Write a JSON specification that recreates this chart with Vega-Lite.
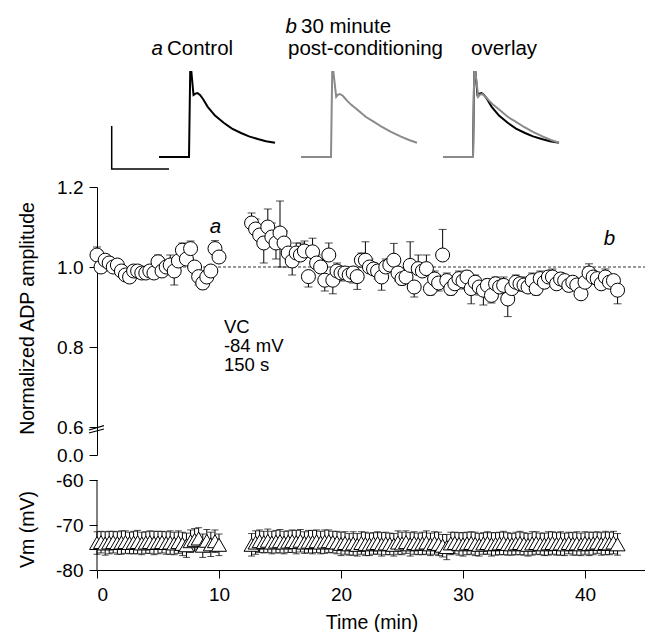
{
"$schema": "https://vega.github.io/schema/vega-lite/v6.json",
"background": "white",
"padding": {"left": 16, "top": 0, "right": 0, "bottom": 0},
"config": {
  "font": "Liberation Sans",
  "view": {"stroke": null},
  "axis": {"domainColor": "black", "tickColor": "black", "labelColor": "black", "titleColor": "black", "labelFontSize": 19, "titleFontSize": 19.5, "titleFontWeight": "normal", "tickSize": 8, "labelPadding": 6, "grid": false, "domainWidth": 1, "tickWidth": 1},
  "text": {"fontSize": 19, "color": "black"}
},
"datasets": {
  "d": [
    {"t":0,"a":1.03,"lo":1.03,"hi":1.05,"vm":-74.0,"ve":2.5},
    {"t":0.33,"a":1.0,"lo":0.99,"hi":1.0,"vm":-73.8,"ve":2.4},
    {"t":0.67,"a":1.017,"lo":1.017,"hi":1.03,"vm":-74.1,"ve":2.6},
    {"t":1,"a":1.01,"lo":1.01,"hi":1.025,"vm":-73.9,"ve":2.5},
    {"t":1.33,"a":1.0,"lo":1.0,"hi":1.01,"vm":-73.8,"ve":2.4},
    {"t":1.67,"a":1.005,"lo":0.99,"hi":1.005,"vm":-74.0,"ve":2.5},
    {"t":2,"a":0.99,"lo":0.99,"hi":1.0,"vm":-73.9,"ve":2.6},
    {"t":2.33,"a":0.98,"lo":0.975,"hi":0.98,"vm":-73.8,"ve":2.5},
    {"t":2.67,"a":0.975,"lo":0.975,"hi":0.985,"vm":-74.0,"ve":2.4},
    {"t":3,"a":0.99,"lo":0.99,"hi":1.0,"vm":-73.9,"ve":2.5},
    {"t":3.33,"a":0.99,"lo":0.98,"hi":0.99,"vm":-73.8,"ve":2.6},
    {"t":3.67,"a":0.985,"lo":0.985,"hi":0.995,"vm":-74.1,"ve":2.5},
    {"t":4,"a":0.985,"lo":0.975,"hi":0.985,"vm":-73.9,"ve":2.4},
    {"t":4.33,"a":0.99,"lo":0.99,"hi":1.0,"vm":-73.8,"ve":2.5},
    {"t":4.67,"a":0.985,"lo":0.975,"hi":0.985,"vm":-74.0,"ve":2.6},
    {"t":5,"a":1.013,"lo":1.013,"hi":1.03,"vm":-73.9,"ve":2.5},
    {"t":5.33,"a":0.99,"lo":0.99,"hi":1.0,"vm":-73.8,"ve":2.4},
    {"t":5.67,"a":1.0,"lo":1.0,"hi":1.01,"vm":-74.0,"ve":2.5},
    {"t":6,"a":1.005,"lo":1.005,"hi":1.03,"vm":-73.9,"ve":2.6},
    {"t":6.33,"a":0.99,"lo":0.955,"hi":0.99,"vm":-74.1,"ve":2.5},
    {"t":6.67,"a":1.015,"lo":1.015,"hi":1.025,"vm":-73.8,"ve":2.5},
    {"t":7,"a":1.042,"lo":1.042,"hi":1.06,"vm":-74.2,"ve":2.6},
    {"t":7.33,"a":1.02,"lo":1.02,"hi":1.03,"vm":-74.5,"ve":2.7},
    {"t":7.67,"a":1.046,"lo":1.046,"hi":1.065,"vm":-73.6,"ve":2.5},
    {"t":8,"a":1.0,"lo":0.99,"hi":1.0,"vm":-73.3,"ve":2.5},
    {"t":8.33,"a":0.976,"lo":0.955,"hi":0.976,"vm":-73.0,"ve":2.4},
    {"t":8.67,"a":0.96,"lo":0.945,"hi":0.96,"vm":-74.6,"ve":2.6},
    {"t":9,"a":0.975,"lo":0.975,"hi":0.99,"vm":-73.5,"ve":2.5},
    {"t":9.33,"a":0.99,"lo":0.99,"hi":1.0,"vm":-74.3,"ve":2.7},
    {"t":9.67,"a":1.046,"lo":1.046,"hi":1.066,"vm":-73.6,"ve":2.5},
    {"t":10,"a":1.025,"lo":1.025,"hi":1.035,"vm":-74.4,"ve":2.4},
    {"t":12.67,"a":1.11,"lo":1.11,"hi":1.135,"vm":-74.4,"ve":2.5},
    {"t":13,"a":1.095,"lo":1.095,"hi":1.12,"vm":-73.9,"ve":2.6},
    {"t":13.33,"a":1.08,"lo":1.08,"hi":1.1,"vm":-73.6,"ve":2.5},
    {"t":13.67,"a":1.06,"lo":1.01,"hi":1.06,"vm":-73.8,"ve":2.4},
    {"t":14,"a":1.1,"lo":1.1,"hi":1.145,"vm":-73.5,"ve":2.6},
    {"t":14.33,"a":1.075,"lo":1.075,"hi":1.11,"vm":-73.9,"ve":2.5},
    {"t":14.67,"a":1.06,"lo":1.02,"hi":1.06,"vm":-73.7,"ve":2.5},
    {"t":15,"a":1.085,"lo":1.0,"hi":1.165,"vm":-73.6,"ve":2.6},
    {"t":15.33,"a":1.06,"lo":1.06,"hi":1.09,"vm":-73.9,"ve":2.5},
    {"t":15.67,"a":1.035,"lo":1.0,"hi":1.035,"vm":-73.7,"ve":2.4},
    {"t":16,"a":1.015,"lo":0.98,"hi":1.015,"vm":-73.6,"ve":2.5},
    {"t":16.33,"a":1.035,"lo":1.035,"hi":1.06,"vm":-73.8,"ve":2.6},
    {"t":16.67,"a":1.03,"lo":1.03,"hi":1.06,"vm":-73.5,"ve":2.5},
    {"t":17,"a":1.04,"lo":1.04,"hi":1.065,"vm":-73.9,"ve":2.4},
    {"t":17.33,"a":0.976,"lo":0.95,"hi":0.976,"vm":-73.7,"ve":2.5},
    {"t":17.67,"a":1.038,"lo":1.038,"hi":1.072,"vm":-73.8,"ve":2.6},
    {"t":18,"a":1.01,"lo":1.01,"hi":1.03,"vm":-73.6,"ve":2.5},
    {"t":18.33,"a":1.0,"lo":1.0,"hi":1.02,"vm":-73.9,"ve":2.5},
    {"t":18.67,"a":0.967,"lo":0.94,"hi":0.967,"vm":-73.7,"ve":2.6},
    {"t":19,"a":1.03,"lo":1.03,"hi":1.06,"vm":-73.6,"ve":2.5},
    {"t":19.33,"a":0.967,"lo":0.933,"hi":0.967,"vm":-73.8,"ve":2.4},
    {"t":19.67,"a":0.99,"lo":0.99,"hi":1.01,"vm":-73.9,"ve":2.5},
    {"t":20,"a":0.985,"lo":0.965,"hi":0.985,"vm":-74.2,"ve":2.6},
    {"t":20.33,"a":0.985,"lo":0.985,"hi":1.0,"vm":-74.0,"ve":2.5},
    {"t":20.67,"a":0.98,"lo":0.98,"hi":0.995,"vm":-74.3,"ve":2.4},
    {"t":21,"a":0.985,"lo":0.96,"hi":0.985,"vm":-74.1,"ve":2.6},
    {"t":21.33,"a":0.976,"lo":0.944,"hi":0.976,"vm":-74.4,"ve":2.5},
    {"t":21.67,"a":1.017,"lo":1.017,"hi":1.035,"vm":-74.0,"ve":2.5},
    {"t":22,"a":1.017,"lo":1.017,"hi":1.063,"vm":-74.2,"ve":2.6},
    {"t":22.33,"a":1.0,"lo":1.0,"hi":1.02,"vm":-74.3,"ve":2.5},
    {"t":22.67,"a":0.995,"lo":0.995,"hi":1.01,"vm":-74.1,"ve":2.4},
    {"t":23,"a":0.99,"lo":0.97,"hi":0.99,"vm":-74.0,"ve":2.5},
    {"t":23.33,"a":0.975,"lo":0.942,"hi":0.975,"vm":-74.3,"ve":2.6},
    {"t":23.67,"a":1.0,"lo":1.0,"hi":1.02,"vm":-74.1,"ve":2.5},
    {"t":24,"a":1.005,"lo":1.005,"hi":1.02,"vm":-74.2,"ve":2.4},
    {"t":24.33,"a":1.017,"lo":1.017,"hi":1.059,"vm":-74.4,"ve":2.5},
    {"t":24.67,"a":0.985,"lo":0.965,"hi":0.985,"vm":-73.9,"ve":2.6},
    {"t":25,"a":0.971,"lo":0.955,"hi":0.971,"vm":-74.1,"ve":2.5},
    {"t":25.33,"a":0.975,"lo":0.975,"hi":0.99,"vm":-73.8,"ve":2.5},
    {"t":25.67,"a":1.004,"lo":1.004,"hi":1.063,"vm":-74.3,"ve":2.6},
    {"t":26,"a":0.95,"lo":0.925,"hi":0.95,"vm":-74.0,"ve":2.5},
    {"t":26.33,"a":0.996,"lo":0.996,"hi":1.03,"vm":-74.2,"ve":2.4},
    {"t":26.67,"a":0.99,"lo":0.99,"hi":1.01,"vm":-74.1,"ve":2.5},
    {"t":27,"a":0.996,"lo":0.996,"hi":1.03,"vm":-73.9,"ve":2.6},
    {"t":27.33,"a":0.946,"lo":0.93,"hi":0.946,"vm":-74.3,"ve":2.5},
    {"t":27.67,"a":0.97,"lo":0.97,"hi":0.99,"vm":-74.0,"ve":2.5},
    {"t":28,"a":0.96,"lo":0.94,"hi":0.96,"vm":-74.2,"ve":2.6},
    {"t":28.33,"a":1.03,"lo":1.03,"hi":1.094,"vm":-74.6,"ve":2.5},
    {"t":28.67,"a":0.966,"lo":0.966,"hi":0.985,"vm":-74.9,"ve":2.8},
    {"t":29,"a":0.946,"lo":0.93,"hi":0.946,"vm":-74.1,"ve":2.5},
    {"t":29.33,"a":0.958,"lo":0.958,"hi":0.975,"vm":-74.0,"ve":2.4},
    {"t":29.67,"a":0.971,"lo":0.971,"hi":0.99,"vm":-74.2,"ve":2.5},
    {"t":30,"a":0.965,"lo":0.945,"hi":0.965,"vm":-74.3,"ve":2.6},
    {"t":30.33,"a":0.975,"lo":0.975,"hi":0.99,"vm":-74.1,"ve":2.5},
    {"t":30.67,"a":0.946,"lo":0.908,"hi":0.946,"vm":-74.0,"ve":2.5},
    {"t":31,"a":0.962,"lo":0.962,"hi":0.98,"vm":-74.2,"ve":2.6},
    {"t":31.33,"a":0.95,"lo":0.93,"hi":0.95,"vm":-74.4,"ve":2.5},
    {"t":31.67,"a":0.942,"lo":0.905,"hi":0.942,"vm":-74.1,"ve":2.4},
    {"t":32,"a":0.954,"lo":0.954,"hi":0.97,"vm":-74.0,"ve":2.5},
    {"t":32.33,"a":0.929,"lo":0.91,"hi":0.929,"vm":-74.3,"ve":2.6},
    {"t":32.67,"a":0.958,"lo":0.958,"hi":0.975,"vm":-74.2,"ve":2.5},
    {"t":33,"a":0.95,"lo":0.95,"hi":0.97,"vm":-74.1,"ve":2.5},
    {"t":33.33,"a":0.954,"lo":0.954,"hi":0.975,"vm":-74.0,"ve":2.6},
    {"t":33.67,"a":0.92,"lo":0.876,"hi":0.92,"vm":-74.2,"ve":2.5},
    {"t":34,"a":0.946,"lo":0.946,"hi":0.965,"vm":-74.3,"ve":2.4},
    {"t":34.33,"a":0.962,"lo":0.962,"hi":0.98,"vm":-74.1,"ve":2.5},
    {"t":34.67,"a":0.958,"lo":0.94,"hi":0.958,"vm":-74.0,"ve":2.6},
    {"t":35,"a":0.955,"lo":0.955,"hi":0.975,"vm":-74.2,"ve":2.5},
    {"t":35.33,"a":0.95,"lo":0.95,"hi":0.97,"vm":-74.4,"ve":2.5},
    {"t":35.67,"a":0.966,"lo":0.966,"hi":0.985,"vm":-74.1,"ve":2.6},
    {"t":36,"a":0.946,"lo":0.93,"hi":0.946,"vm":-74.0,"ve":2.5},
    {"t":36.33,"a":0.971,"lo":0.971,"hi":0.99,"vm":-74.2,"ve":2.4},
    {"t":36.67,"a":0.962,"lo":0.962,"hi":0.98,"vm":-74.3,"ve":2.5},
    {"t":37,"a":0.975,"lo":0.975,"hi":0.99,"vm":-74.1,"ve":2.6},
    {"t":37.33,"a":0.975,"lo":0.975,"hi":0.995,"vm":-74.0,"ve":2.5},
    {"t":37.67,"a":0.958,"lo":0.945,"hi":0.958,"vm":-74.2,"ve":2.5},
    {"t":38,"a":0.97,"lo":0.97,"hi":0.985,"vm":-74.1,"ve":2.6},
    {"t":38.33,"a":0.966,"lo":0.966,"hi":0.98,"vm":-74.3,"ve":2.5},
    {"t":38.67,"a":0.954,"lo":0.94,"hi":0.954,"vm":-74.0,"ve":2.4},
    {"t":39,"a":0.962,"lo":0.962,"hi":0.975,"vm":-74.2,"ve":2.5},
    {"t":39.33,"a":0.955,"lo":0.955,"hi":0.97,"vm":-74.1,"ve":2.6},
    {"t":39.67,"a":0.933,"lo":0.925,"hi":0.933,"vm":-74.3,"ve":2.5},
    {"t":40,"a":0.962,"lo":0.962,"hi":0.975,"vm":-74.0,"ve":2.5},
    {"t":40.33,"a":0.985,"lo":0.985,"hi":1.008,"vm":-74.2,"ve":2.6},
    {"t":40.67,"a":0.975,"lo":0.975,"hi":0.99,"vm":-74.1,"ve":2.5},
    {"t":41,"a":0.971,"lo":0.971,"hi":0.985,"vm":-73.9,"ve":2.4},
    {"t":41.33,"a":0.958,"lo":0.945,"hi":0.958,"vm":-74.2,"ve":2.5},
    {"t":41.67,"a":0.975,"lo":0.975,"hi":0.995,"vm":-74.0,"ve":2.6},
    {"t":42,"a":0.962,"lo":0.962,"hi":0.98,"vm":-74.1,"ve":2.5},
    {"t":42.33,"a":0.966,"lo":0.966,"hi":0.975,"vm":-73.9,"ve":2.5},
    {"t":42.67,"a":0.942,"lo":0.908,"hi":0.942,"vm":-74.3,"ve":2.4}
  ],
  "tr": [
    {"tr":"a","t":-30,"v":-75},{"tr":"a","t":0,"v":-75},{"tr":"a","t":1.2,"v":-32.5},{"tr":"a","t":2.4,"v":-32.5},{"tr":"a","t":4.5,"v":-44},{"tr":"a","t":6.5,"v":-43.3},{"tr":"a","t":8.5,"v":-43},{"tr":"a","t":11,"v":-44},{"tr":"a","t":14,"v":-46},{"tr":"a","t":18.7,"v":-49.9},{"tr":"a","t":26,"v":-54.3},{"tr":"a","t":35,"v":-58},{"tr":"a","t":43,"v":-60.8},{"tr":"a","t":52,"v":-63},{"tr":"a","t":60,"v":-64.7},{"tr":"a","t":68.7,"v":-66},{"tr":"a","t":77,"v":-67.1},{"tr":"a","t":86,"v":-67.9},
    {"tr":"b","t":-30,"v":-75},{"tr":"b","t":0,"v":-75},{"tr":"b","t":1.2,"v":-32.5},{"tr":"b","t":2.4,"v":-32.5},{"tr":"b","t":5.2,"v":-44.9},{"tr":"b","t":7,"v":-43.8},{"tr":"b","t":9,"v":-43.5},{"tr":"b","t":12,"v":-44.5},{"tr":"b","t":16,"v":-46.8},{"tr":"b","t":20,"v":-48.8},{"tr":"b","t":26.7,"v":-51.5},{"tr":"b","t":35,"v":-55},{"tr":"b","t":43,"v":-57.4},{"tr":"b","t":51,"v":-60},{"tr":"b","t":60,"v":-62.4},{"tr":"b","t":70,"v":-64.8},{"tr":"b","t":78,"v":-66.5},{"tr":"b","t":86,"v":-67.9}
  ],
  "sb": [
    {"x1":-77.3,"x2":-77.3,"y1":-59.5,"y2":-81},
    {"x1":-78,"x2":-20,"y1":-81,"y2":-81}
  ],
  "brk": [
    {"x1":-0.66,"x2":0.57,"y1":0.536,"y2":0.628},
    {"x1":-0.66,"x2":0.57,"y1":0.471,"y2":0.557}
  ]
},
"spacing": 0,
"bounds": "flush",
"resolve": {"scale": {"x": "independent", "y": "independent"}, "axis": {"x": "independent", "y": "independent"}},
"vconcat": [
  {
    "width": 549, "height": 187,
    "resolve": {"scale": {"x": "independent"}},
    "layer": [
      {"data": {"name": "sb"}, "mark": {"type": "rule", "color": "black", "strokeWidth": 1.5},
       "encoding": {"x": {"field": "x1", "type": "quantitative", "scale": {"domain": [-92, 457], "nice": false, "zero": false}, "axis": null}, "x2": {"field": "x2"},
                    "y": {"field": "y1", "type": "quantitative", "scale": {"domain": [-90, 3.5], "nice": false, "zero": false}, "axis": null}, "y2": {"field": "y2"}}},
      {"data": {"name": "tr"}, "transform": [{"filter": "datum.tr == 'a'"}], "mark": {"type": "line", "color": "black", "strokeWidth": 2},
       "encoding": {"x": {"field": "t", "type": "quantitative", "scale": {"domain": [-92, 457], "nice": false, "zero": false}, "axis": null}, "y": {"field": "v", "type": "quantitative"}}},
      {"data": {"values": [{}]}, "mark": {"type": "text", "fontStyle": "italic", "fontSize": 20.5, "align": "right", "baseline": "alphabetic"},
       "encoding": {"x": {"datum": -26, "type": "quantitative", "scale": {"domain": [-92, 457], "nice": false, "zero": false}, "axis": null}, "y": {"datum": -24, "type": "quantitative"}, "text": {"value": "a"}}},
      {"data": {"values": [{}]}, "mark": {"type": "text", "fontSize": 20.5, "align": "left", "baseline": "alphabetic"},
       "encoding": {"x": {"datum": -22, "type": "quantitative", "scale": {"domain": [-92, 457], "nice": false, "zero": false}, "axis": null}, "y": {"datum": -24, "type": "quantitative"}, "text": {"value": "Control"}}},
      {"data": {"name": "tr"}, "transform": [{"filter": "datum.tr == 'b'"}], "mark": {"type": "line", "color": "#8a8a8a", "strokeWidth": 2},
       "encoding": {"x": {"field": "t", "type": "quantitative", "scale": {"domain": [-234, 315], "nice": false, "zero": false}, "axis": null}, "y": {"field": "v", "type": "quantitative"}}},
      {"data": {"values": [{}]}, "mark": {"type": "text", "fontStyle": "italic", "fontSize": 20.5, "align": "right", "baseline": "alphabetic"},
       "encoding": {"x": {"datum": -34, "type": "quantitative", "scale": {"domain": [-234, 315], "nice": false, "zero": false}, "axis": null}, "y": {"datum": -13, "type": "quantitative"}, "text": {"value": "b"}}},
      {"data": {"values": [{}]}, "mark": {"type": "text", "fontSize": 20.5, "align": "left", "baseline": "alphabetic"},
       "encoding": {"x": {"datum": -30, "type": "quantitative", "scale": {"domain": [-234, 315], "nice": false, "zero": false}, "axis": null}, "y": {"datum": -13, "type": "quantitative"}, "text": {"value": "30 minute"}}},
      {"data": {"values": [{}]}, "mark": {"type": "text", "fontSize": 20.5, "align": "left", "baseline": "alphabetic"},
       "encoding": {"x": {"datum": -43, "type": "quantitative", "scale": {"domain": [-234, 315], "nice": false, "zero": false}, "axis": null}, "y": {"datum": -24, "type": "quantitative"}, "text": {"value": "post-conditioning"}}},
      {"data": {"name": "tr"}, "transform": [{"filter": "datum.tr == 'a'"}], "mark": {"type": "line", "color": "black", "strokeWidth": 2},
       "encoding": {"x": {"field": "t", "type": "quantitative", "scale": {"domain": [-376, 173], "nice": false, "zero": false}, "axis": null}, "y": {"field": "v", "type": "quantitative"}}},
      {"data": {"name": "tr"}, "transform": [{"filter": "datum.tr == 'b'"}], "mark": {"type": "line", "color": "#8a8a8a", "strokeWidth": 2},
       "encoding": {"x": {"field": "t", "type": "quantitative", "scale": {"domain": [-376, 173], "nice": false, "zero": false}, "axis": null}, "y": {"field": "v", "type": "quantitative"}}},
      {"data": {"values": [{}]}, "mark": {"type": "text", "fontSize": 20.5, "align": "left", "baseline": "alphabetic"},
       "encoding": {"x": {"datum": -2, "type": "quantitative", "scale": {"domain": [-376, 173], "nice": false, "zero": false}, "axis": null}, "y": {"datum": -24, "type": "quantitative"}, "text": {"value": "overlay"}}}
    ]
  },
  {
    "width": 549, "height": 240,
    "data": {"name": "d"},
    "layer": [
      {"data": {"values": [{}]}, "mark": {"type": "rule", "strokeDash": [3, 2], "color": "#333", "strokeWidth": 1},
       "encoding": {"y": {"datum": 1, "type": "quantitative"}}},
      {"mark": {"type": "errorbar", "color": "black", "thickness": 1, "ticks": {"size": 8}},
       "encoding": {"x": {"field": "t", "type": "quantitative", "scale": {"domain": [0, 45], "nice": false, "zero": false}, "axis": null},
                    "y": {"field": "lo", "type": "quantitative", "title": "Normalized ADP amplitude", "scale": {"domain": [0.6, 1.2], "nice": false, "zero": false},
                          "axis": {"values": [0.6, 0.8, 1.0, 1.2], "format": ".1f", "title": "Normalized ADP amplitude", "titleX": -64, "titleY": 131, "titleBaseline": "alphabetic", "titleAlign": "center"}},
                    "y2": {"field": "hi"}}},
      {"mark": {"type": "circle", "size": 196, "fill": "white", "stroke": "black", "strokeWidth": 1, "opacity": 1},
       "encoding": {"x": {"field": "t", "type": "quantitative"}, "y": {"field": "a", "type": "quantitative", "title": "Normalized ADP amplitude"}}},
      {"data": {"values": [{}]}, "mark": {"type": "text", "fontStyle": "italic", "fontSize": 20.5, "align": "center", "baseline": "alphabetic"},
       "encoding": {"x": {"datum": 9.7}, "y": {"datum": 1.085}, "text": {"value": "a"}}},
      {"data": {"values": [{}]}, "mark": {"type": "text", "fontStyle": "italic", "fontSize": 20.5, "align": "center", "baseline": "alphabetic"},
       "encoding": {"x": {"datum": 42.0}, "y": {"datum": 1.055}, "text": {"value": "b"}}},
      {"data": {"values": [{}]}, "mark": {"type": "text", "fontSize": 18.5, "align": "left", "baseline": "alphabetic", "lineHeight": 19},
       "encoding": {"x": {"datum": 10.4}, "y": {"datum": 0.835}, "text": {"value": ["VC", "-84 mV", "150 s"]}}}
    ]
  },
  {
    "width": 549, "height": 28,
    "data": {"name": "brk"},
    "mark": {"type": "rule", "color": "black", "strokeWidth": 1.2},
    "encoding": {
      "x": {"field": "x1", "type": "quantitative", "scale": {"domain": [0, 45], "nice": false, "zero": false}, "axis": null},
      "x2": {"field": "x2"},
      "y": {"field": "y1", "type": "quantitative", "scale": {"domain": [0, 0.6], "nice": false, "zero": false}, "axis": {"values": [0], "format": ".1f", "title": null}},
      "y2": {"field": "y2"}
    }
  },
  {
    "width": 549, "height": 115,
    "data": {"name": "d"},
    "layer": [
      {"data": {"values": [{}]}, "mark": {"type": "rule", "color": "black", "strokeWidth": 1},
       "encoding": {"x": {"datum": 0, "type": "quantitative"}, "y": {"datum": -80, "type": "quantitative"}, "y2": {"datum": -60}}},
      {"mark": {"type": "errorbar", "color": "black", "thickness": 1, "ticks": {"size": 7}},
       "encoding": {"x": {"field": "t", "type": "quantitative", "title": "Time (min)", "scale": {"domain": [0, 45], "nice": false, "zero": false},
                          "axis": {"values": [0, 10, 20, 30, 40], "title": "Time (min)", "labelPadding": 7, "titleY": 58, "titleBaseline": "alphabetic"}},
                    "y": {"field": "vm", "type": "quantitative", "title": "Vm (mV)", "scale": {"domain": [-80, -54.44], "nice": false, "zero": false},
                          "axis": {"values": [-60, -70, -80], "labelExpr": "'' + datum.value", "domain": false, "title": "Vm (mV)", "titleX": -64, "titleY": 74, "titleBaseline": "alphabetic", "titleAlign": "center"}},
                    "yError": {"field": "ve"}}},
      {"mark": {"type": "point", "shape": "triangle-up", "size": 225, "filled": true, "fill": "white", "stroke": "black", "strokeWidth": 1, "opacity": 1},
       "encoding": {"x": {"field": "t", "type": "quantitative", "title": "Time (min)"}, "y": {"field": "vm", "type": "quantitative", "title": "Vm (mV)"}}}
    ]
  }
]
}
